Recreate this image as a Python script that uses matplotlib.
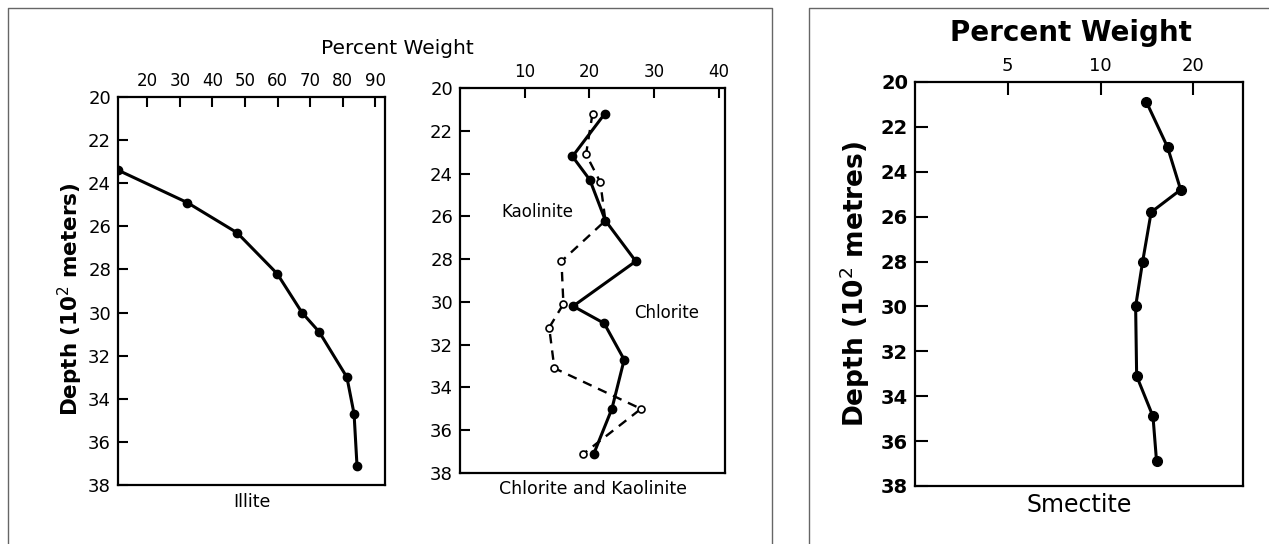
import matplotlib
matplotlib.use("Agg")
import matplotlib.pyplot as plt
from matplotlib.lines import Line2D


# Data :

illite_depth = [23.4, 24.9, 26.3, 28.2, 30.0, 30.9, 33.0, 34.7, 37.1]
illite_pct = [11.1, 32.3, 47.6, 59.9, 67.5, 72.8, 81.3, 83.5, 84.4]

chl_depth = [21.2, 23.2, 24.3, 26.2, 28.1, 30.2, 31.0, 32.7, 35.0, 37.1]
chl_pct = [22.4, 17.4, 20.1, 22.5, 27.2, 17.5, 22.3, 25.4, 23.5, 20.7]

kao_depth = [21.2, 23.1, 24.4, 26.2, 28.1, 30.1, 31.2, 33.1, 35.0, 37.1]
kao_pct = [20.5, 19.5, 21.7, 22.5, 15.7, 16.0, 13.8, 14.6, 28.0, 19.1]

smec_depth = [20.9, 22.9, 24.8, 25.8, 28.0, 30.0, 33.1, 34.9, 36.9]
smec_pct = [14.1, 16.5, 18.2, 14.6, 13.7, 13.0, 13.1, 14.8, 15.2]

depth_ticks = [20, 22, 24, 26, 28, 30, 32, 34, 36, 38]
illite_ticks = [20, 30, 40, 50, 60, 70, 80, 90]
chl_ticks = [10, 20, 30, 40]
smec_ticks = [5, 10, 20]


# Layout helpers :

W, H = 1269, 544


def box(fig, left, top, right, bottom):
    # pixel box -> figure axes
    return fig.add_axes([left / W, 1 - bottom / H, (right - left) / W, (bottom - top) / H])


def style(ax, xticks, ylab_size, xlab_size, tlen, weight="normal"):
    ax.set_ylim(38, 20)
    ax.set_yticks(depth_ticks)
    ax.set_xticks(xticks)
    ax.set_xticklabels([str(t) for t in xticks])
    ax.xaxis.set_ticks_position("top")
    ax.xaxis.set_label_position("bottom")
    ax.tick_params(axis="both", direction="in", length=tlen, width=1.5, pad=5)
    ax.tick_params(axis="y", labelsize=ylab_size)
    ax.tick_params(axis="x", labelsize=xlab_size)
    for lab in ax.get_xticklabels() + ax.get_yticklabels():
        lab.set_fontweight(weight)
    for s in ax.spines.values():
        s.set_linewidth(1.6)
    ax.minorticks_off()


fig = plt.figure(figsize=(W / 100, H / 100), dpi=100)

# panel borders
grey = "#666666"
fig.add_artist(Line2D([8 / W, 8 / W, 772 / W, 772 / W], [0, 1 - 8 / H, 1 - 8 / H, 0],
                      transform=fig.transFigure, color=grey, lw=1))
fig.add_artist(Line2D([809 / W, 809 / W, 1.0], [0, 1 - 8 / H, 1 - 8 / H],
                      transform=fig.transFigure, color=grey, lw=1))

# Illite
ax1 = box(fig, 118, 97, 385, 485)
ax1.plot(illite_pct, illite_depth, color="black", lw=2.2, marker="o", ms=6)
ax1.set_xlim(11, 93)
style(ax1, illite_ticks, 13, 12, 7)
ax1.set_ylabel("Depth (10$^2$ meters)", fontsize=15.5, fontweight="bold")
ax1.yaxis.set_label_coords(-33 / 267, 0.478)
ax1.set_xlabel("Illite", fontsize=12.5, labelpad=6)

# Chlorite and Kaolinite
ax2 = box(fig, 460, 88, 725, 473)
ax2.plot(kao_pct, kao_depth, color="black", lw=1.7, ls=(0, (4, 3)), marker="o", ms=5,
         mfc="white", mec="black", mew=1.2)
ax2.plot(chl_pct, chl_depth, color="black", lw=2.2, marker="o", ms=6)
ax2.set_xlim(0, 41)
style(ax2, chl_ticks, 13, 12, 7)
ax2.set_xlabel("Chlorite and Kaolinite", fontsize=12.5, labelpad=5)
ax2.text(12, 25.8, "Kaolinite", fontsize=12, ha="center", va="center")
ax2.text(32, 30.5, "Chlorite", fontsize=12, ha="center", va="center")

fig.text(397 / W, 1 - 48 / H, "Percent Weight", fontsize=14.5, ha="center", va="center")

# Smectite
ax3 = box(fig, 915, 82, 1243, 486)
ax3.plot(smec_pct, smec_depth, color="black", lw=2.2, marker="o", ms=7)
ax3.set_xscale("log")
ax3.set_xlim(2.5, 29)
style(ax3, smec_ticks, 14, 13, 9, weight="bold")
for lab in ax3.get_xticklabels():
    lab.set_fontweight("normal")
ax3.set_ylabel("Depth (10$^2$ metres)", fontsize=19, fontweight="bold", labelpad=6)
ax3.set_xlabel("Smectite", fontsize=17, labelpad=5)

fig.text(1071 / W, 1 - 33 / H, "Percent Weight", fontsize=20, fontweight="bold",
         ha="center", va="center")

fig.savefig("out.png", dpi=100)
